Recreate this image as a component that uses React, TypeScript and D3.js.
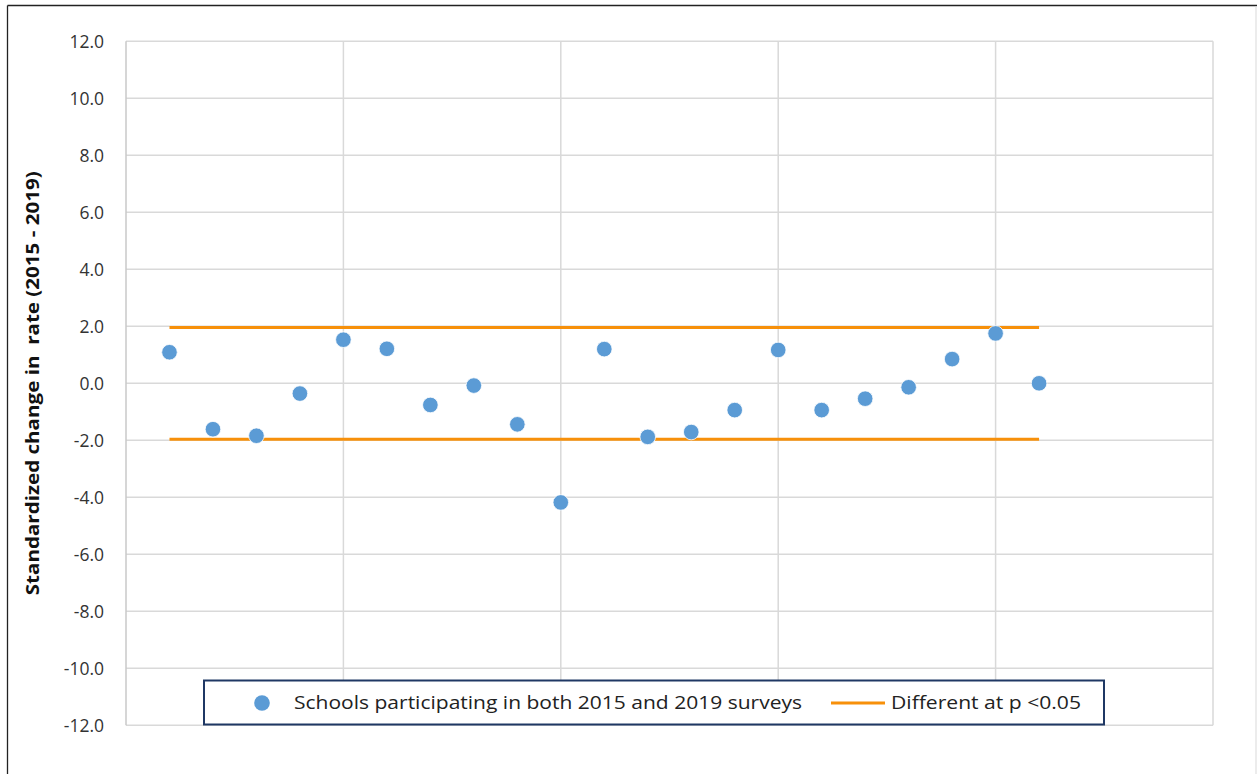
import { useEffect, useRef } from 'react';
import * as d3 from 'd3';

// school index along x (1..21)
const schools: number[] = [1, 2, 3, 4, 5, 6, 7, 8, 9, 10, 11, 12, 13, 14, 15, 16, 17, 18, 19, 20, 21];
// standardized change in rate, 2015 - 2019
const changes: number[] = [1.09, -1.61, -1.84, -0.36, 1.53, 1.21, -0.76, -0.08, -1.44, -4.18, 1.2, -1.88, -1.71, -0.94, 1.17, -0.94, -0.54, -0.14, 0.85, 1.75, 0.0];
// significance bounds
const bounds: number[] = [1.96, -1.96];
const yTicks: number[] = [12, 10, 8, 6, 4, 2, 0, -2, -4, -6, -8, -10, -12];
const xTicks: number[] = [5, 10, 15, 20, 25];

const W = 1257;
const H = 774;
const FONT = '"Open Sans", "Noto Sans", sans-serif';

const App = () => {
  const svgRef = useRef<SVGSVGElement | null>(null);

  useEffect(() => {
    if (!svgRef.current) return;
    const svg = d3.select(svgRef.current);
    svg.selectAll('*').remove();

    const left = 126, right = 1213, top = 41.3, bottom = 725.3;
    const x = d3.scaleLinear().domain([0, 25]).range([left, right]);
    const y = d3.scaleLinear().domain([-12, 12]).range([bottom, top]);

    svg.append('rect').attr('width', W).attr('height', H).attr('fill', 'white');

    // outer frame
    svg.append('line').attr('x1', 7.5).attr('x2', W).attr('y1', 5.5).attr('y2', 5.5)
      .attr('stroke', '#222').attr('stroke-width', 1.3);
    svg.append('line').attr('x1', 7.5).attr('x2', 7.5).attr('y1', 5.5).attr('y2', H)
      .attr('stroke', '#222').attr('stroke-width', 1.3);
    svg.append('line').attr('x1', 1256).attr('x2', 1256).attr('y1', 6).attr('y2', H)
      .attr('stroke', '#d9d9d9').attr('stroke-width', 1);

    // gridlines
    const grid = svg.append('g');
    grid.selectAll('line.h')
      .data(yTicks)
      .enter()
      .append('line')
      .attr('class', 'h')
      .attr('x1', left).attr('x2', right)
      .attr('y1', d => y(d)).attr('y2', d => y(d))
      .attr('stroke', '#d9d9d9').attr('stroke-width', 1.5);
    grid.selectAll('line.v')
      .data(xTicks)
      .enter()
      .append('line')
      .attr('class', 'v')
      .attr('x1', d => x(d)).attr('x2', d => x(d))
      .attr('y1', top).attr('y2', bottom)
      .attr('stroke', '#d9d9d9').attr('stroke-width', 1.5);
    grid.append('line')
      .attr('x1', left).attr('x2', left).attr('y1', top).attr('y2', bottom)
      .attr('stroke', '#c8c8c8').attr('stroke-width', 1.5);

    // y tick labels (plain hyphen for negatives)
    svg.append('g')
      .selectAll('text')
      .data(yTicks)
      .enter()
      .append('text')
      .attr('x', 104)
      .attr('y', d => y(d))
      .attr('dy', '0.36em')
      .attr('text-anchor', 'end')
      .attr('font-family', FONT)
      .attr('font-size', 17.5)
      .attr('fill', '#333')
      .text(d => d.toFixed(1));

    // y axis title
    svg.append('text')
      .attr('transform', `translate(39, ${y(0)}) rotate(-90)`)
      .attr('text-anchor', 'middle')
      .attr('font-family', FONT)
      .attr('font-size', 17)
      .attr('font-weight', 'bold')
      .attr('fill', '#111')
      .attr('textLength', 424)
      .attr('lengthAdjust', 'spacingAndGlyphs')
      .attr('xml:space', 'preserve')
      .text('Standardized change in  rate (2015 - 2019)');

    // significance lines
    svg.append('g')
      .selectAll('path')
      .data(bounds)
      .enter()
      .append('path')
      .attr('d', b => d3.line<number>().x(d => x(d)).y(() => y(b))([schools[0], schools[schools.length - 1]]))
      .attr('stroke', '#f7900a')
      .attr('stroke-width', 3)
      .attr('fill', 'none');

    // points
    svg.append('g')
      .selectAll('circle')
      .data(schools)
      .enter()
      .append('circle')
      .attr('cx', d => x(d))
      .attr('cy', (_d, i) => y(changes[i]))
      .attr('r', 7.8)
      .attr('fill', '#5b9bd5')
      .attr('stroke', 'white')
      .attr('stroke-width', 0.8);

    // legend
    const lg = svg.append('g');
    lg.append('rect')
      .attr('x', 204).attr('y', 680.5).attr('width', 900).attr('height', 44)
      .attr('fill', 'white').attr('stroke', '#1f3864').attr('stroke-width', 2);
    lg.append('circle').attr('cx', 262).attr('cy', 703).attr('r', 7.8).attr('fill', '#5b9bd5');
    lg.append('text')
      .attr('x', 294).attr('y', 703).attr('dy', '0.36em')
      .attr('font-family', FONT).attr('font-size', 18).attr('fill', '#222')
      .attr('textLength', 508).attr('lengthAdjust', 'spacingAndGlyphs')
      .text('Schools participating in both 2015 and 2019 surveys');
    lg.append('line')
      .attr('x1', 831).attr('x2', 885).attr('y1', 703).attr('y2', 703)
      .attr('stroke', '#f7900a').attr('stroke-width', 3);
    lg.append('text')
      .attr('x', 891).attr('y', 703).attr('dy', '0.36em')
      .attr('font-family', FONT).attr('font-size', 18).attr('fill', '#222')
      .attr('textLength', 190).attr('lengthAdjust', 'spacingAndGlyphs')
      .text('Different at p <0.05');
  }, []);

  return (
    <svg ref={svgRef} width={W} height={H} style={{ position: 'absolute', left: 0, top: 0 }}></svg>
  );
};

export default App;
